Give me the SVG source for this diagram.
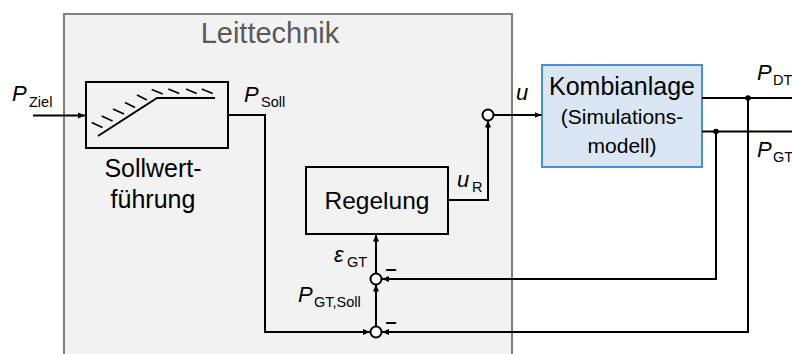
<svg xmlns="http://www.w3.org/2000/svg" width="792" height="354" viewBox="0 0 792 354">
<style>
text{font-family:"Liberation Sans",Arial,sans-serif;fill:#000}
.blk{fill:none;stroke:#000;stroke-width:2}
.ln{fill:none;stroke:#000;stroke-width:2}
.h{stroke:#000;stroke-width:1.6}
.var{font-style:italic;font-size:22px}
.sub{font-size:14.5px}
.lab{font-size:25px}
</style>
<defs>
<marker id="ah" markerUnits="userSpaceOnUse" markerWidth="8" markerHeight="8" refX="7" refY="4" orient="auto">
<path d="M0,1 L7,4 L0,7 Z" fill="#000"/>
</marker>
</defs>
<g id="leittechnik">
<rect x="64" y="14" width="448" height="360" fill="#f2f2f2" stroke="#7f7f7f" stroke-width="2"/>
<text x="270" y="43" text-anchor="middle" font-size="29" style="fill:#595959">Leittechnik</text>
</g>
<g id="sollwertfuehrung">
<rect class="blk" x="86" y="82" width="142" height="66" fill="none"/>
<path class="ln" d="M98,136 L157,98 H215"/>
<g class="h">
<line x1="91.7" y1="122.5" x2="102.5" y2="127.5"/>
<line x1="101.7" y1="116" x2="112.5" y2="121"/>
<line x1="113" y1="109" x2="124" y2="114"/>
<line x1="125" y1="102.5" x2="135" y2="107.5"/>
<line x1="137" y1="95" x2="147" y2="100"/>
<line x1="151.7" y1="89.5" x2="162.7" y2="94"/>
<line x1="168.3" y1="89" x2="179.3" y2="93.5"/>
<line x1="186" y1="89" x2="196.7" y2="93.5"/>
<line x1="201.7" y1="89" x2="212.7" y2="93.5"/>
</g>
<text class="lab" x="153" y="177" text-anchor="middle">Sollwert-</text>
<text class="lab" x="153" y="208" text-anchor="middle">führung</text>
</g>
<g id="regelung">
<rect class="blk" x="306" y="167" width="142" height="67"/>
<text x="377" y="209" text-anchor="middle" font-size="24.5">Regelung</text>
</g>
<g id="kombianlage">
<rect x="542" y="65" width="160" height="102" fill="#dbe6f4" stroke="#4a8fd6" stroke-width="2"/>
<text x="622" y="95" text-anchor="middle" font-size="25">Kombianlage</text>
<text x="622" y="124" text-anchor="middle" font-size="21">(Simulations-</text>
<text x="622" y="153" text-anchor="middle" font-size="21">modell)</text>
</g>
<g id="sum_u">
<circle cx="488" cy="115" r="5.5" fill="#fff" stroke="#000" stroke-width="2"/>
</g>
<g id="sum_eps">
<circle cx="376" cy="279" r="5.5" fill="#fff" stroke="#000" stroke-width="2"/>
<text x="391" y="275" text-anchor="middle" font-size="20" font-weight="bold">–</text>
</g>
<g id="sum_soll">
<circle cx="376" cy="332" r="5.5" fill="#fff" stroke="#000" stroke-width="2"/>
<text x="391" y="328" text-anchor="middle" font-size="20" font-weight="bold">–</text>
</g>
<g id="connectors">
<path class="ln" d="M33,115.5 H85" marker-end="url(#ah)"/>
<path class="ln" d="M228,115 H265 V332 H370" marker-end="url(#ah)"/>
<path class="ln" d="M376,326.5 V284.5" marker-end="url(#ah)"/>
<path class="ln" d="M376,273.5 V234.5" marker-end="url(#ah)"/>
<path class="ln" d="M448,200 H488 V120.5" marker-end="url(#ah)"/>
<path class="ln" d="M493.5,115 H541.5" marker-end="url(#ah)"/>
<path class="ln" d="M702,98 H792"/>
<path class="ln" d="M702,131.5 H792"/>
<path class="ln" d="M748,98 V332 H382" marker-end="url(#ah)"/>
<path class="ln" d="M716,131.5 V279 H382" marker-end="url(#ah)"/>
<circle cx="748" cy="98" r="2.8" fill="#000"/>
<circle cx="716" cy="131.5" r="2.8" fill="#000"/>
</g>
<g id="labels">
<text class="var" x="12" y="101">P</text><text class="sub" x="29" y="107">Ziel</text>
<text class="var" x="244" y="102">P</text><text class="sub" x="261" y="107">Soll</text>
<text class="var" x="516" y="100">u</text>
<text class="var" x="457" y="187">u</text><text class="sub" x="472" y="192">R</text>
<text class="var" x="334" y="262">ε</text><text class="sub" x="347" y="267">GT</text>
<text class="var" x="298" y="302">P</text><text class="sub" x="314" y="307">GT,Soll</text>
<text class="var" x="757" y="80">P</text><text class="sub" x="773" y="85">DT</text>
<text class="var" x="757" y="157">P</text><text class="sub" x="773" y="162">GT</text>
</g>
</svg>
